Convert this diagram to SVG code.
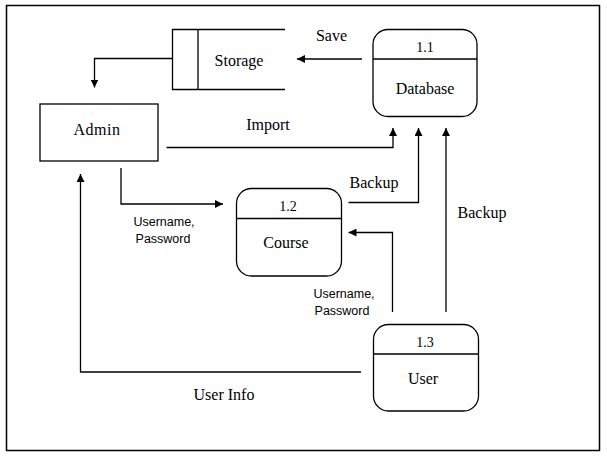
<svg xmlns="http://www.w3.org/2000/svg" width="607" height="456" viewBox="0 0 607 456">
<style>
.s{fill:none;stroke:#000;stroke-width:1.3}
.n{fill:#fff;stroke:#000;stroke-width:1.3}
.t{font-family:"Liberation Serif",serif;font-size:16px;fill:#000;text-anchor:middle}
.id{font-family:"Liberation Serif",serif;font-size:14px;fill:#000;text-anchor:middle}
.c{font-family:"Liberation Sans",sans-serif;font-size:12.5px;fill:#000;text-anchor:middle}
</style>
<defs>
<marker id="a" viewBox="0 0 10 10" refX="10" refY="5" markerWidth="8" markerHeight="8" markerUnits="userSpaceOnUse" orient="auto">
<path d="M0,0 L10,5 L0,10 z" fill="#000"/>
</marker>
</defs>
<rect x="6.5" y="5.5" width="593" height="445" fill="#fff" stroke="#000" stroke-width="1.5"/>
<g id="storage">
<path class="s" d="M285,29.5 H172.5 V89.5 H285 M198,29.5 V89.5"/>
<text class="t" x="239" y="66">Storage</text>
</g>
<g id="database">
<rect class="n" x="373" y="29.5" width="104" height="87" rx="15"/>
<line class="s" x1="373" y1="59" x2="477" y2="59"/>
<text class="id" x="425" y="52">1.1</text>
<text class="t" x="425" y="94">Database</text>
</g>
<g id="admin">
<rect class="n" x="40" y="104" width="118" height="57"/>
<text class="t" x="97" y="135" letter-spacing="0.5">Admin</text>
</g>
<g id="course">
<rect class="n" x="236.5" y="188.5" width="105" height="87.5" rx="15"/>
<line class="s" x1="236.5" y1="218.5" x2="341.5" y2="218.5"/>
<text class="id" x="288" y="211">1.2</text>
<text class="t" x="286" y="248">Course</text>
</g>
<g id="user">
<rect class="n" x="373.5" y="324.5" width="105" height="86.5" rx="15"/>
<line class="s" x1="373.5" y1="354" x2="478.5" y2="354"/>
<text class="id" x="425" y="347">1.3</text>
<text class="t" x="423" y="383.5">User</text>
</g>
<g id="connectors">
<path class="s" d="M362,59 H297" marker-end="url(#a)"/>
<path class="s" d="M172,58.5 H94.5 V87.5" marker-end="url(#a)"/>
<path class="s" d="M166.5,147.5 H393 V128" marker-end="url(#a)"/>
<path class="s" d="M121,168 V204 H223" marker-end="url(#a)"/>
<path class="s" d="M348.5,202.5 H418.5 V128" marker-end="url(#a)"/>
<path class="s" d="M392.5,312 V232.5 H348.5" marker-end="url(#a)"/>
<path class="s" d="M446,312 V128" marker-end="url(#a)"/>
<path class="s" d="M361,372 H80.5 V174" marker-end="url(#a)"/>
</g>
<g id="labels">
<text class="t" x="331.5" y="41">Save</text>
<text class="t" x="268" y="130">Import</text>
<text class="c" x="164" y="226">Username,</text>
<text class="c" x="163" y="243">Password</text>
<text class="t" x="374" y="187.5">Backup</text>
<text class="t" x="482" y="217.5">Backup</text>
<text class="c" x="344" y="298">Username,</text>
<text class="c" x="342" y="315">Password</text>
<text class="t" x="224" y="400">User Info</text>
</g>
</svg>
